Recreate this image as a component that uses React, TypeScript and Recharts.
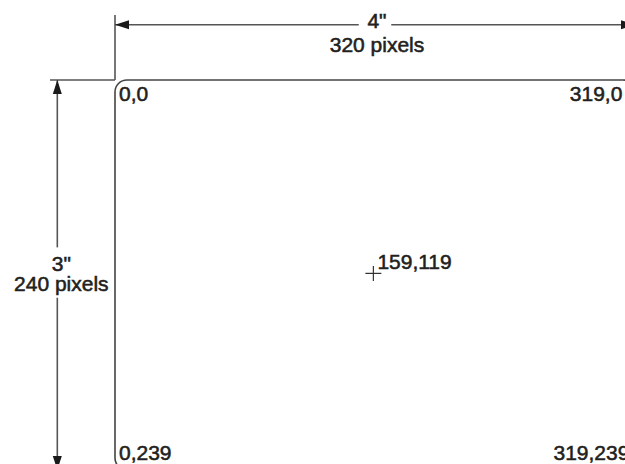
import React from 'react';
import { ScatterChart, Scatter, XAxis, YAxis, ReferenceLine, ReferenceDot, ReferenceArea } from 'recharts';

// ---- data (screen pixel coordinates of a 320 x 240 display) ----
const SCREEN_W = 320;
const SCREEN_H = 240;
const pointLabels = ['0,0', '319,0', '159,119', '0,239', '319,239'];
const pointX = [0, 319, 159, 0, 319];
const pointY = [0, 0, 119, 239, 239];
const widthLabels = ['4"', '320 pixels'];
const heightLabels = ['3"', '240 pixels'];

// ---- layout ----
const CHART_W = 660;
const CHART_H = 490;
const PX = 1.625; // drawn px per screen pixel
const MARGIN = {
  left: 115,
  top: 80,
  right: CHART_W - 115 - SCREEN_W * PX,
  bottom: CHART_H - 80 - SCREEN_H * PX,
};
const DIM_TOP_Y = -34;
const DIM_LEFT_X = -35.5;
const EXT = -40;
const GAP_TOP: [number, number] = [150, 170];
const GAP_LEFT: [number, number] = [103, 134];

const FONT = '"Liberation Sans", Arial, sans-serif';
const TEXT_COLOR = '#231f20';
const LINE_COLOR = '#555';
const FS = 21;

const points = pointLabels.map((label, i) => ({ x: pointX[i], y: pointY[i], label }));

const segments: { x: number; y: number }[][] = [
  [{ x: 0, y: DIM_TOP_Y }, { x: GAP_TOP[0], y: DIM_TOP_Y }],
  [{ x: GAP_TOP[1], y: DIM_TOP_Y }, { x: SCREEN_W, y: DIM_TOP_Y }],
  [{ x: DIM_LEFT_X, y: 0 }, { x: DIM_LEFT_X, y: GAP_LEFT[0] }],
  [{ x: DIM_LEFT_X, y: GAP_LEFT[1] }, { x: DIM_LEFT_X, y: SCREEN_H }],
  [{ x: 0, y: EXT }, { x: 0, y: 0 }],
  [{ x: EXT, y: 0 }, { x: 0, y: 0 }],
  [{ x: SCREEN_W, y: EXT }, { x: SCREEN_W, y: 0 }],
  [{ x: EXT, y: SCREEN_H }, { x: 0, y: SCREEN_H }],
];

const arrowTips = [
  { x: 0, y: DIM_TOP_Y, dir: 'left' },
  { x: SCREEN_W, y: DIM_TOP_Y, dir: 'right' },
  { x: DIM_LEFT_X, y: 0, dir: 'up' },
  { x: DIM_LEFT_X, y: SCREEN_H, dir: 'down' },
];

const Arrow = ({ cx, cy, dir }: any) => {
  const L = 14;
  const W = 4.5;
  let pts = '';
  if (dir === 'left') pts = `${cx},${cy} ${cx + L},${cy - W} ${cx + L},${cy + W}`;
  if (dir === 'right') pts = `${cx},${cy} ${cx - L},${cy - W} ${cx - L},${cy + W}`;
  if (dir === 'up') pts = `${cx},${cy} ${cx - W},${cy + L} ${cx + W},${cy + L}`;
  if (dir === 'down') pts = `${cx},${cy} ${cx - W},${cy - L} ${cx + W},${cy - L}`;
  return <polygon points={pts} fill="#1a1a1a" />;
};

const txt = (x: number, y: number, s: string, anchor: 'start' | 'middle' | 'end') => (
  <text
    x={x}
    y={y}
    textAnchor={anchor}
    fontFamily={FONT}
    fontSize={FS}
    fill={TEXT_COLOR}
    stroke={TEXT_COLOR}
    strokeWidth={0.55}
  >
    {s}
  </text>
);

const PointShape = (props: any) => {
  const { cx, cy, payload } = props;
  if (cx == null || cy == null) return null;
  const { x, y, label } = payload;
  const isCenter = x !== 0 && x !== SCREEN_W - 1;
  if (isCenter) {
    return (
      <g>
        <line x1={cx - 8} y1={cy} x2={cx + 8} y2={cy} stroke="#333" strokeWidth={1.2} />
        <line x1={cx} y1={cy - 7.5} x2={cx} y2={cy + 7.5} stroke="#333" strokeWidth={1.2} />
        {txt(cx + 4, cy - 4, label, 'start')}
      </g>
    );
  }
  const left = x === 0;
  const top = y === 0;
  const tx = left ? cx + 4 : cx + (top ? -11 : -4);
  const ty = top ? cy + 21 : cy - 8.5;
  return <g>{txt(tx, ty, label, left ? 'start' : 'end')}</g>;
};

const DimText = ({ cx, cy, lines, kind }: any) => {
  if (kind === 'top') {
    return (
      <g>
        {txt(cx + 2, cy + 3, lines[0], 'middle')}
        {txt(cx + 2, cy + 27, lines[1], 'middle')}
      </g>
    );
  }
  return (
    <g>
      {txt(cx + 4, cy - 4, lines[0], 'middle')}
      {txt(cx + 4, cy + 16, lines[1], 'middle')}
    </g>
  );
};

const BorderShape = (p: any) => (
  <rect
    x={p.x}
    y={p.y}
    width={p.width}
    height={p.height}
    rx={12}
    ry={12}
    fill="none"
    stroke="#444"
    strokeWidth={1.6}
  />
);

export default function App() {
  return (
    <div
      style={{
        position: 'absolute',
        left: 0,
        top: 0,
        width: 625,
        height: 464,
        overflow: 'hidden',
        background: '#fff',
      }}
    >
      <ScatterChart width={CHART_W} height={CHART_H} margin={MARGIN}>
        <XAxis type="number" dataKey="x" domain={[0, SCREEN_W]} hide />
        <YAxis type="number" dataKey="y" domain={[0, SCREEN_H]} reversed hide />
        <ReferenceArea
          x1={0}
          x2={SCREEN_W}
          y1={0}
          y2={SCREEN_H}
          ifOverflow="visible"
          shape={BorderShape}
        />
        {segments.map((seg, i) => (
          <ReferenceLine
            key={`s${i}`}
            segment={seg}
            ifOverflow="visible"
            stroke={LINE_COLOR}
            strokeWidth={1.6}
          />
        ))}
        {arrowTips.map((a, i) => (
          <ReferenceDot
            key={`a${i}`}
            x={a.x}
            y={a.y}
            r={1}
            ifOverflow="visible"
            shape={(p: any) => <Arrow cx={p.cx} cy={p.cy} dir={a.dir} />}
          />
        ))}
        <ReferenceDot
          x={SCREEN_W / 2}
          y={DIM_TOP_Y}
          r={1}
          ifOverflow="visible"
          shape={(p: any) => <DimText cx={p.cx} cy={p.cy} lines={widthLabels} kind="top" />}
        />
        <ReferenceDot
          x={DIM_LEFT_X}
          y={SCREEN_H / 2}
          r={1}
          ifOverflow="visible"
          shape={(p: any) => <DimText cx={p.cx} cy={p.cy} lines={heightLabels} kind="left" />}
        />
        <Scatter data={points} shape={PointShape} isAnimationActive={false} />
      </ScatterChart>
    </div>
  );
}
